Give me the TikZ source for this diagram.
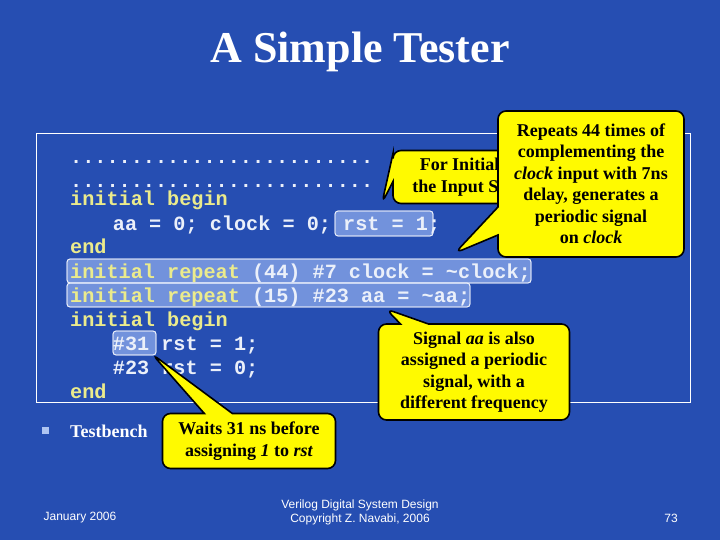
\documentclass[tikz,border=0pt]{standalone}
\usepackage{fontspec}
\setmainfont{Liberation Serif}
\setsansfont{Liberation Sans}
\setmonofont{Liberation Mono}
\usetikzlibrary{shapes.callouts}
\definecolor{bgblue}{RGB}{38,78,178}
\definecolor{kw}{RGB}{235,235,140}
\definecolor{codew}{RGB}{235,240,250}
\definecolor{hl}{RGB}{140,170,235}
\definecolor{callyel}{RGB}{255,250,0}
\begin{document}
\begin{tikzpicture}[x=1pt,y=-1pt,
  code/.style={anchor=base west,inner sep=0pt,font=\ttfamily\bfseries\fontsize{20.2}{24}\selectfont,text=codew},
  hlbox/.style={draw=white!85!hl,fill=hl,fill opacity=0.75,draw opacity=0.9,rounded corners=3pt,line width=0.8pt},
  call/.style={rectangle callout,draw=black,line width=1.6pt,fill=callyel,rounded corners=8pt,
    callout pointer width=28pt,
    font=\bfseries\fontsize{18}{21.5}\selectfont,align=center,text=black,inner sep=2pt},
  foot/.style={font=\sffamily\fontsize{12}{14}\selectfont,text=white,align=center}]
\useasboundingbox (0,0) rectangle (720,540);
\fill[bgblue] (0,0) rectangle (720,540);
\node (title) [font=\bfseries\fontsize{44}{48}\selectfont,text=white] at (360,52) {A Simple Tester};
\draw[white,line width=0.8pt] (36,133) rectangle (690,402);
% highlights
\fill[hlbox] (335,211) rectangle (433,236);
\fill[hlbox] (67,259) rectangle (531,283);
\fill[hlbox] (67,283) rectangle (470,307);
\fill[hlbox] (113,331) rectangle (156,355);
\draw[hlbox,fill opacity=0] (335,211) rectangle (433,236);
\draw[hlbox,fill opacity=0] (67,259) rectangle (531,283);
\draw[hlbox,fill opacity=0] (67,283) rectangle (470,307);
\draw[hlbox,fill opacity=0] (113,331) rectangle (156,355);
% code
\node (l1) [code] at (70,164) {.........................};
\node (l2) [code] at (70,188) {.........................};
\node (l3) [code] at (70,206) {\textcolor{kw}{initial begin}};
\node (l4) [code] at (70,230) {\hspace{4ex}aa = 0; clock = 0; rst = 1;};
\node (l5) [code] at (70,254) {\textcolor{kw}{end}};
\node (l6) [code] at (70,278) {\textcolor{kw}{initial repeat} (44) \#7 clock = \textasciitilde clock;};
\node (l7) [code] at (70,302) {\textcolor{kw}{initial repeat} (15) \#23 aa = \textasciitilde aa;};
\node (l8) [code] at (70,326) {\textcolor{kw}{initial begin}};
\node (l9) [code] at (70,350) {\hspace{4ex}\#31 rst = 1;};
\node (l10) [code] at (70,374) {\hspace{4ex}\#23 rst = 0;};
\node (l11) [code] at (70,398) {\textcolor{kw}{end}};
% bullet
\fill[hl!70!white] (42,427) rectangle (49,434);
\node (tb) [anchor=base west,inner sep=0pt,text=white,font=\bfseries\fontsize{18}{20}\selectfont] at (70,437) {Testbench};
% callouts
\node (c1) [call,callout absolute pointer={(382,203)},minimum width=170pt,minimum height=53pt] at (478,177) {For Initializing\\the Input Signals};
\node (c2) [call,callout absolute pointer={(455,253)},minimum width=186pt,minimum height=146pt] at (591,184) {Repeats 44 times of\\complementing the\\\textit{clock} input with 7ns\\delay, generates a\\periodic signal\\on \textit{clock}};
\node (c3) [call,callout absolute pointer={(386,309)},minimum width=191pt,minimum height=96pt] at (474,372) {Signal \textit{aa} is also\\assigned a periodic\\signal, with a\\different frequency};
\node (c4) [call,callout absolute pointer={(152,354)},minimum width=173pt,minimum height=55pt] at (249,441) {Waits 31 ns before\\assigning \textit{1} to \textit{rst}};
% footer
\node (f1) [foot] at (80,518) {January 2006};
\node (f2) [foot] at (360,512) {Verilog Digital System Design\\Copyright Z. Navabi, 2006};
\node (f3) [foot] at (671,518) {73};
\end{tikzpicture}
\end{document}
